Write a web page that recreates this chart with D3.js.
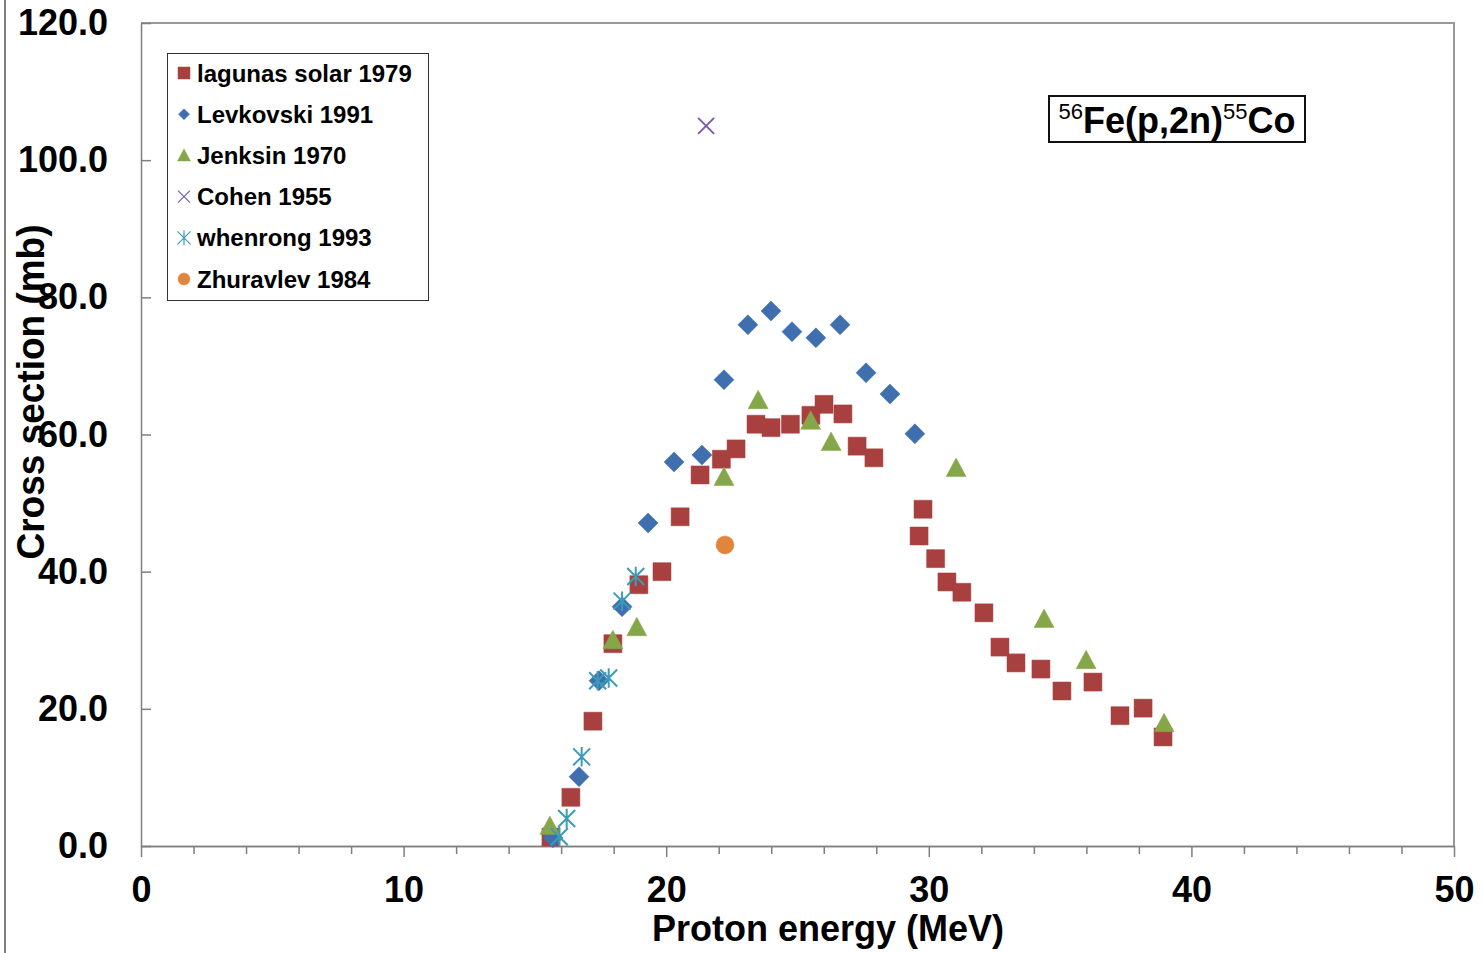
<!DOCTYPE html>
<html>
<head>
<meta charset="utf-8">
<script src="https://cdn.jsdelivr.net/npm/d3@7"></script>
<style>
  body { margin: 0; background: #fff; }
  svg { display: block; font-family: "Liberation Sans", Arial, sans-serif; }
  .axis text { font-size: 36px; font-weight: bold; fill: #000; }
  .axis path, .axis line { stroke: #7f7f7f; stroke-width: 1.5; }
</style>
</head>
<body>
<div id="chart"></div>
<script>
// data: [proton energy (MeV), cross section (mb)]
const lagunas = [
  [15.61, 1.3], [16.37, 7.1], [17.21, 18.2], [17.97, 29.5], [18.96, 38.1],
  [19.84, 40.0], [20.53, 48.0], [21.29, 54.1], [22.1, 56.4], [22.66, 57.9],
  [23.42, 61.5], [23.99, 61.0], [24.73, 61.5], [25.51, 62.8], [26.01, 64.4],
  [26.73, 63.0], [27.27, 58.3], [27.91, 56.6], [29.63, 45.2], [29.78, 49.1],
  [30.26, 41.9], [30.69, 38.5], [31.26, 37.0], [32.1, 34.0], [32.71, 29.0],
  [33.32, 26.7], [34.27, 25.8], [35.07, 22.6], [36.25, 23.9], [37.28, 19.0],
  [38.16, 20.1], [38.92, 15.9]
];
const levkovski = [
  [15.69, 1.2], [16.68, 10.1], [17.44, 24.1], [18.32, 34.9], [19.31, 47.1],
  [20.3, 56.0], [21.36, 57.0], [22.2, 68.0], [23.11, 76.0], [23.99, 78.0],
  [24.79, 75.0], [25.7, 74.1], [26.62, 76.0], [27.61, 69.0], [28.52, 65.9],
  [29.47, 60.1]
];
const jenksin = [
  [15.57, 2.9], [17.97, 30.0], [18.88, 31.9], [22.2, 53.8], [23.5, 65.0],
  [25.5, 62.0], [26.28, 58.9], [31.04, 55.1], [34.39, 33.1], [35.99, 27.1],
  [38.96, 17.9]
];
const cohen = [[21.52, 105.0]];
const whenrong = [
  [15.93, 1.35], [16.21, 4.0], [16.78, 13.0], [17.39, 24.1], [17.81, 24.5],
  [18.32, 35.7], [18.84, 39.3]
];
const zhuravlev = [[22.24, 43.9]];

const seriesNames = ["lagunas solar 1979", "Levkovski 1991", "Jenksin 1970",
  "Cohen 1955", "whenrong 1993", "Zhuravlev 1984"];

const xMajorTicks = [0, 10, 20, 30, 40, 50];
const xMinorTicks = d3.range(0, 51, 2).filter(v => v % 10 !== 0);
const yTicks = [0, 20, 40, 60, 80, 100, 120];

const W = 1483, H = 953;
const plot = { left: 141, right: 1454, top: 23, bottom: 846 };

const svg = d3.select("#chart").append("svg")
  .attr("width", W).attr("height", H);

const x = d3.scaleLinear().domain([0, 50]).range([plot.left, plot.right]);
const y = d3.scaleLinear().domain([0, 120]).range([plot.bottom, plot.top]);

// marker shapes, s = nominal size in px
function markerPath(kind, s) {
  const h = s / 2;
  switch (kind) {
    case "square": return `M${-h},${-h}H${h}V${h}H${-h}Z`;
    case "diamond": return `M0,${-h}L${h},0L0,${h}L${-h},0Z`;
    case "triangle": return `M0,${-h}L${h},${h * 0.85}L${-h},${h * 0.85}Z`;
    case "x": return `M${-h},${-h}L${h},${h}M${-h},${h}L${h},${-h}`;
    case "star": return `M${-h},${-h}L${h},${h}M${-h},${h}L${h},${-h}M0,${-h * 1.15}V${h * 1.15}`;
    case "circle": return d3.symbol(d3.symbolCircle, Math.PI * h * h)();
  }
}

const series = [
  { name: seriesNames[0], data: lagunas, kind: "square", color: "#a8403f", size: 18, fill: true },
  { name: seriesNames[1], data: levkovski, kind: "diamond", color: "#3f6fae", size: 20, fill: true },
  { name: seriesNames[2], data: jenksin, kind: "triangle", color: "#86a64a", size: 20, fill: true },
  { name: seriesNames[3], data: cohen, kind: "x", color: "#7b5ea4", size: 16, fill: false },
  { name: seriesNames[4], data: whenrong, kind: "star", color: "#3b9cb8", size: 17, fill: false },
  { name: seriesNames[5], data: zhuravlev, kind: "circle", color: "#e0853a", size: 18, fill: true }
];

// outer frame line on the left edge
svg.append("line")
  .attr("x1", 5).attr("x2", 5).attr("y1", 0).attr("y2", H)
  .attr("stroke", "#555").attr("stroke-width", 1.5);

// plot border (top and right)
svg.append("path")
  .attr("d", `M${plot.left},${plot.top}H${plot.right}V${plot.bottom}`)
  .attr("fill", "none").attr("stroke", "#9a9a9a").attr("stroke-width", 2);

// axes
svg.append("g")
  .attr("class", "axis")
  .attr("transform", `translate(0,${plot.bottom})`)
  .call(d3.axisBottom(x).tickValues(xMinorTicks).tickSize(8).tickSizeOuter(0).tickFormat(""));

svg.append("g")
  .attr("class", "axis")
  .attr("transform", `translate(0,${plot.bottom})`)
  .call(d3.axisBottom(x).tickValues(xMajorTicks).tickSize(11).tickSizeOuter(0).tickPadding(19)
    .tickFormat(d3.format("d")));

svg.append("g")
  .attr("class", "axis")
  .attr("transform", `translate(${plot.left},0)`)
  .call(d3.axisLeft(y).tickValues(yTicks).tickSizeInner(-10).tickSizeOuter(0).tickPadding(33)
    .tickFormat(d3.format(".1f")));

// axis titles
svg.append("text")
  .attr("x", 828).attr("y", 941)
  .attr("text-anchor", "middle")
  .attr("font-size", 36).attr("font-weight", "bold")
  .text("Proton energy (MeV)");

svg.append("text")
  .attr("transform", "translate(31,392) rotate(-90)")
  .attr("text-anchor", "middle").attr("dominant-baseline", "central")
  .attr("font-size", 38).attr("font-weight", "bold")
  .attr("textLength", 335).attr("lengthAdjust", "spacingAndGlyphs")
  .text("Cross section (mb)");

// data markers
series.forEach(s => {
  svg.append("g").selectAll("path")
    .data(s.data)
    .enter().append("path")
    .attr("transform", d => `translate(${x(d[0])},${y(d[1])})`)
    .attr("d", markerPath(s.kind, s.size))
    .attr("fill", s.fill ? s.color : "none")
    .attr("stroke", s.color)
    .attr("stroke-width", s.fill ? 0.5 : 2);
});

// legend
const legend = svg.append("g");
legend.append("rect")
  .attr("x", 167.5).attr("y", 53.5).attr("width", 261).attr("height", 247)
  .attr("fill", "#fff").attr("stroke", "#333").attr("stroke-width", 1);

const rowY = d3.scaleLinear().domain([0, 5]).range([73, 279]);
const legendSizes = [12, 11, 13, 12, 13, 12];
series.forEach((s, i) => {
  const g = legend.append("g").attr("transform", `translate(184,${rowY(i)})`);
  g.append("path")
    .attr("d", markerPath(s.kind, legendSizes[i]))
    .attr("fill", s.fill ? s.color : "none")
    .attr("stroke", s.color)
    .attr("stroke-width", s.fill ? 0.5 : 1.2);
  g.append("text")
    .attr("x", 13).attr("y", 8.5)
    .attr("font-size", 24).attr("font-weight", "bold")
    .text(s.name);
});

// reaction label
svg.append("rect")
  .attr("x", 1049).attr("y", 96).attr("width", 256).attr("height", 46)
  .attr("fill", "#fff").attr("stroke", "#111").attr("stroke-width", 2);

const label = svg.append("text")
  .attr("x", 1177).attr("y", 133)
  .attr("text-anchor", "middle")
  .attr("font-size", 36).attr("font-weight", "bold");
label.append("tspan").attr("font-size", 22).attr("font-weight", "normal").attr("dy", -14).text("56");
label.append("tspan").attr("dy", 14).text("Fe(p,2n)");
label.append("tspan").attr("font-size", 22).attr("font-weight", "normal").attr("dy", -14).text("55");
label.append("tspan").attr("dy", 14).text("Co");
</script>
</body>
</html>
